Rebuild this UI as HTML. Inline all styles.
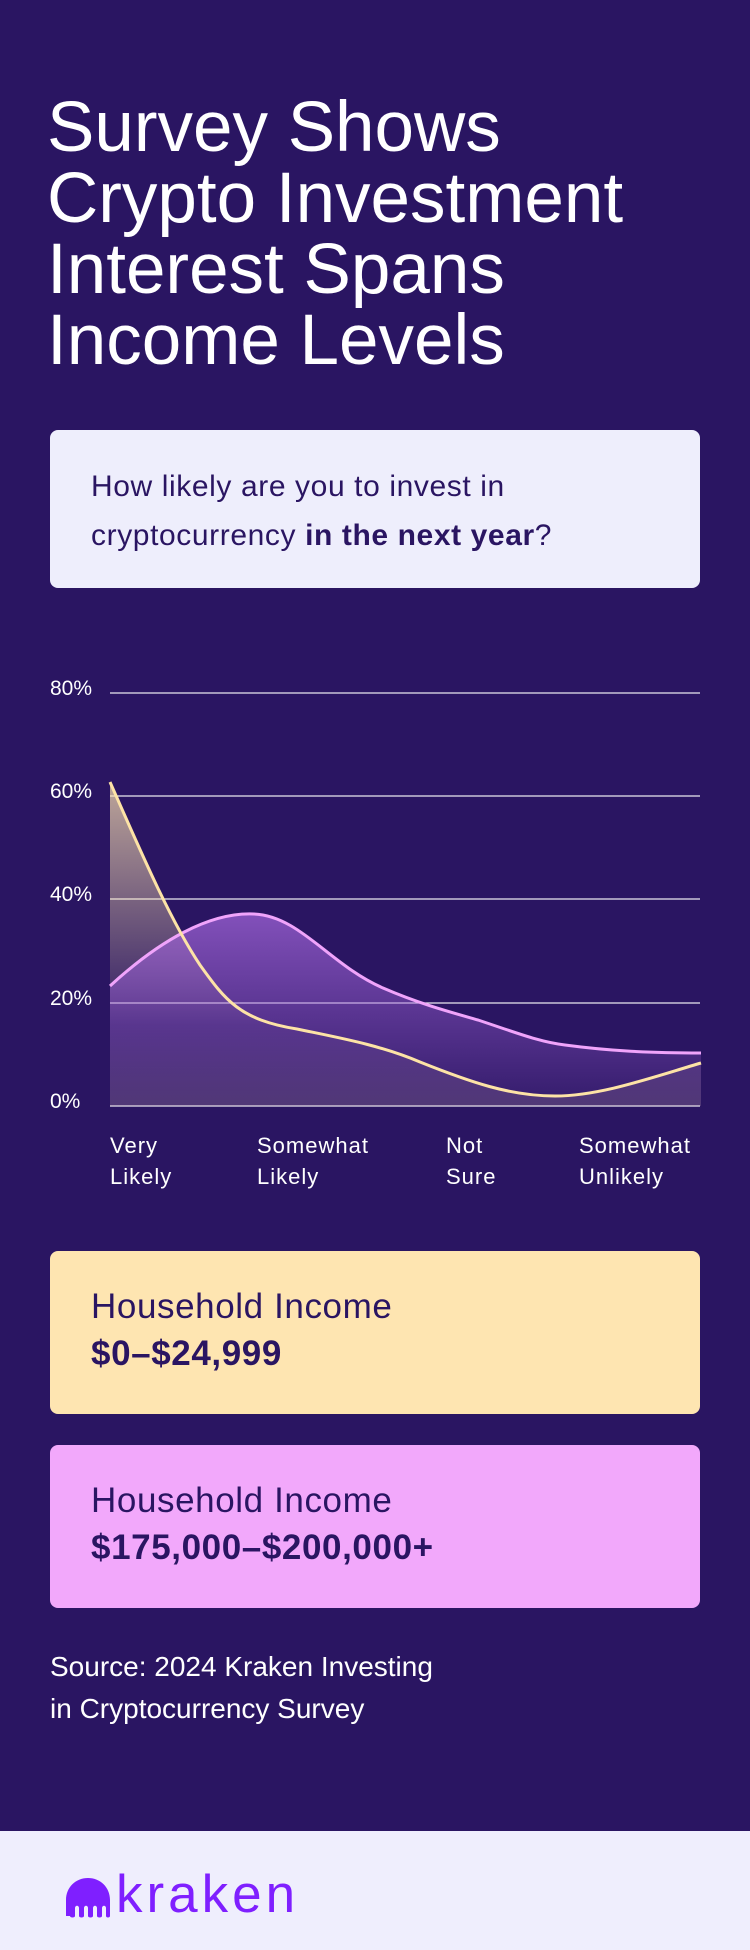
<!DOCTYPE html>
<html><head><meta charset="utf-8"><style>
*{margin:0;padding:0;box-sizing:border-box}
body{width:750px;height:1950px;background:#2a1562;font-family:"Liberation Sans",sans-serif;position:relative;overflow:hidden;color:#fff}
.a{position:absolute}
h1{position:absolute;left:47px;top:92px;font-weight:400;font-size:71px;line-height:71px;letter-spacing:0px;color:#fff}
.box{position:absolute;left:50px;width:650px;border-radius:8px;color:#2a1562}
.yl{position:absolute;left:50px;font-size:21px;color:#fff}
.xl{position:absolute;top:1130px;font-size:22px;line-height:31px;color:#fff;letter-spacing:1px}
</style></head><body>
<h1>Survey Shows<br>Crypto Investment<br>Interest Spans<br>Income Levels</h1>
<div class="box" style="top:430px;height:158px;background:#eeeefc;padding:32px 0 0 41px;font-size:30px;line-height:49px;letter-spacing:.6px">How likely are you to invest in<br>cryptocurrency <b>in the next year</b>?</div>

<div class="yl" style="top:677px">80%</div>
<div class="yl" style="top:780px">60%</div>
<div class="yl" style="top:883px">40%</div>
<div class="yl" style="top:987px">20%</div>
<div class="yl" style="top:1090px">0%</div>
<svg class="a" style="left:0;top:0" width="750" height="1200">
<defs>
<linearGradient id="gy" x1="0" y1="0" x2="0" y2="1"><stop offset="0" stop-color="#fee5b1" stop-opacity=".7"/><stop offset=".75" stop-color="#fee5b1" stop-opacity="0.03"/><stop offset="1" stop-color="#fee5b1" stop-opacity="0.15"/></linearGradient>
<linearGradient id="gp" x1="0" y1="0" x2="0" y2="1"><stop offset="0" stop-color="#a064d8" stop-opacity=".75"/><stop offset="1" stop-color="#a064d8" stop-opacity="0.08"/></linearGradient>
</defs>
<g stroke="#fff" stroke-width="1.3" opacity=".9">
<line x1="110" y1="693" x2="700" y2="693"/><line x1="110" y1="796" x2="700" y2="796"/><line x1="110" y1="899" x2="700" y2="899"/><line x1="110" y1="1003" x2="700" y2="1003"/><line x1="110" y1="1106" x2="700" y2="1106"/>
</g>
<path d="M110,782 C140,850 170,920 200,965 C225,1000 240,1020 297,1029 C340,1038 380,1045 420,1062 C470,1082 510,1096 555,1096 C600,1096 650,1078 701,1063 L701,1106 L110,1106Z" fill="url(#gy)"/>
<path d="M110,986 C160,940 210,912 254,914 C300,916 330,965 383,988 C420,1004 450,1012 478,1020 C520,1034 540,1042 565,1045 C610,1051 650,1053 701,1053 L701,1106 L110,1106Z" fill="url(#gp)"/>
<path d="M110,986 C160,940 210,912 254,914 C300,916 330,965 383,988 C420,1004 450,1012 478,1020 C520,1034 540,1042 565,1045 C610,1051 650,1053 701,1053" fill="none" stroke="#f0a4fb" stroke-width="3"/>
<path d="M110,782 C140,850 170,920 200,965 C225,1000 240,1020 297,1029 C340,1038 380,1045 420,1062 C470,1082 510,1096 555,1096 C600,1096 650,1078 701,1063" fill="none" stroke="#fde3a6" stroke-width="3"/>
</svg>
<div class="xl" style="left:110px">Very<br>Likely</div>
<div class="xl" style="left:257px">Somewhat<br>Likely</div>
<div class="xl" style="left:446px">Not<br>Sure</div>
<div class="xl" style="left:579px">Somewhat<br>Unlikely</div>

<div class="box" style="top:1251px;height:163px;background:#fee5b1;padding:32px 0 0 41px;font-size:35px;line-height:47px;letter-spacing:.6px">Household Income<br><b>$0–$24,999</b></div>
<div class="box" style="top:1445px;height:163px;background:#f2a8fb;padding:32px 0 0 41px;font-size:35px;line-height:47px;letter-spacing:.6px">Household Income<br><b>$175,000–$200,000+</b></div>

<div class="a" style="left:50px;top:1646px;font-size:28px;line-height:42px;color:#fff">Source: 2024 Kraken Investing<br>in Cryptocurrency Survey</div>

<div class="a" style="left:0;top:1831px;width:750px;height:119px;background:#efeefd"></div>
<svg class="a" style="left:66px;top:1878px" width="46" height="40"><path d="M0,38 L0,22 C0,9 10,0 22,0 C34,0 44,9 44,22 L44,38 C44,40 40,40 40,38 L40,30 C40,27 36,27 36,30 L36,38 C36,40 31,40 31,38 L31,30 C31,27 27,27 27,30 L27,38 C27,40 22,40 22,38 L22,30 C22,27 18,27 18,30 L18,38 C18,40 13,40 13,38 L13,30 C13,27 9,27 9,30 L9,38 C9,40 4,40 4,38 Z" fill="#7f1fff"/></svg>
<div class="a" style="left:116px;top:1868px;font-size:53px;line-height:53px;letter-spacing:4px;color:#7f1fff">kraken</div>
</body></html>
